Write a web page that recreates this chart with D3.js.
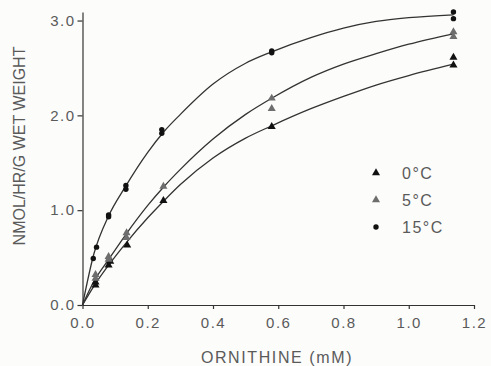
<!DOCTYPE html>
<html>
<head>
<meta charset="utf-8">
<script src="https://cdn.jsdelivr.net/npm/d3@7"></script>
<style>
  html, body { margin: 0; padding: 0; background: #fcfcfa; }
  svg { display: block; }
</style>
</head>
<body>
<div id="chart"></div>
<script>
// ornithine concentration (mM) of each measured point, and activity
const conc0 = [0.04, 0.04, 0.085, 0.08, 0.137, 0.248, 0.58, 1.137, 1.137];
const vals0 = [0.21, 0.24, 0.46, 0.42, 0.63, 1.10, 1.88, 2.61, 2.53];
const conc5 = [0.04, 0.04, 0.08, 0.08, 0.135, 0.135, 0.248, 0.58, 0.58, 1.137, 1.137];
const vals5 = [0.32, 0.28, 0.51, 0.48, 0.76, 0.71, 1.25, 2.18, 2.07, 2.88, 2.83];
const conc15 = [0.033, 0.043, 0.08, 0.08, 0.133, 0.133, 0.243, 0.243, 0.58, 0.58, 1.137, 1.137];
const vals15 = [0.49, 0.61, 0.95, 0.93, 1.26, 1.22, 1.85, 1.81, 2.68, 2.66, 3.09, 3.02];

// fitted curves
const curveX = [0, 0.035, 0.08, 0.13, 0.2, 0.25, 0.3, 0.4, 0.5, 0.58, 0.7, 0.8, 0.9, 1.0, 1.137];
const curve0 = [0, 0.20, 0.42, 0.64, 0.92, 1.10, 1.27, 1.55, 1.76, 1.89, 2.07, 2.20, 2.32, 2.42, 2.54];
const curve5 = [0, 0.25, 0.48, 0.73, 1.05, 1.25, 1.43, 1.75, 2.01, 2.18, 2.40, 2.54, 2.65, 2.75, 2.86];
const curve15 = [0, 0.54, 0.94, 1.24, 1.61, 1.83, 2.01, 2.33, 2.55, 2.67, 2.82, 2.92, 2.99, 3.03, 3.06];

const xTicks = [0, 0.2, 0.4, 0.6, 0.8, 1.0, 1.2];
const yTicks = [0, 1, 2, 3];
const legendLabels = ['0°C', '5°C', '15°C'];

const width = 491;
const height = 366;
const ink = '#333';
const textColor = '#5a5a5a';
const font = 'Liberation Sans, Arial, Helvetica, sans-serif';

const svg = d3.select('#chart')
	.append('svg')
		.attr('width', width)
		.attr('height', height);

const x = d3.scaleLinear().domain([0, 1.2]).range([82.5, 474]);
const y = d3.scaleLinear().domain([0, 3.09]).range([305, 12]);

// axes
const xAxis = svg.append('g')
	.attr('transform', `translate(0,${y(0)})`)
	.call(d3.axisBottom(x).tickValues(xTicks).tickSize(4).tickSizeOuter(0).tickFormat(d3.format('.1f')));
const yAxis = svg.append('g')
	.attr('transform', `translate(${x(0)},0)`)
	.call(d3.axisLeft(y).tickValues(yTicks).tickSize(5).tickSizeOuter(0).tickFormat(d3.format('.1f')));

[xAxis, yAxis].forEach(g => {
	g.selectAll('path, line').attr('stroke', ink).attr('stroke-width', 1.2);
	g.selectAll('text')
		.attr('fill', textColor)
		.style('font-family', font)
		.style('font-size', '15px')
		.style('letter-spacing', '1.5px');
});
xAxis.selectAll('text').attr('dy', '1.05em');
yAxis.selectAll('text').attr('x', -7);

// axis titles
svg.append('text')
	.attr('x', 277)
	.attr('y', 363)
	.attr('text-anchor', 'middle')
	.attr('fill', textColor)
	.style('font-family', font)
	.style('font-size', '16px')
	.style('letter-spacing', '1.6px')
	.text('ORNITHINE (mM)');
svg.append('text')
	.attr('transform', 'translate(25,146) rotate(-90)')
	.attr('text-anchor', 'middle')
	.attr('fill', textColor)
	.style('font-family', font)
	.style('font-size', '16px')
	.text('NMOL/HR/G WET WEIGHT');

// curves
const line = d3.line()
	.x(d => x(d[0]))
	.y(d => y(d[1]))
	.curve(d3.curveMonotoneX);

[curve0, curve5, curve15].forEach(vals => {
	svg.append('path')
		.datum(curveX.map((c, i) => [c, vals[i]]))
		.attr('d', line)
		.attr('fill', 'none')
		.attr('stroke', ink)
		.attr('stroke-width', 1.3);
});

// markers
const tri = d3.symbol(d3.symbolTriangle).size(28);
const series = [
	{ conc: conc0, vals: vals0, shape: 'tri', color: '#111' },
	{ conc: conc5, vals: vals5, shape: 'tri', color: '#6e6e6e' },
	{ conc: conc15, vals: vals15, shape: 'dot', color: '#111' },
];

function drawMarker(g, s, cx, cy) {
	if (s.shape === 'tri') {
		g.append('path')
			.attr('d', tri)
			.attr('transform', `translate(${cx},${cy})`)
			.attr('fill', s.color);
	} else {
		g.append('circle')
			.attr('cx', cx)
			.attr('cy', cy)
			.attr('r', 2.7)
			.attr('fill', s.color);
	}
}

const marks = svg.append('g');
series.forEach(s => {
	s.conc.forEach((c, i) => drawMarker(marks, s, x(c), y(s.vals[i])));
});

// legend
const legend = svg.append('g');
series.forEach((s, i) => {
	const ly = 173 + i * 27;
	drawMarker(legend, s, 376, ly);
	legend.append('text')
		.attr('x', 402)
		.attr('y', ly)
		.attr('dy', '0.36em')
		.attr('fill', textColor)
		.style('font-family', font)
		.style('font-size', '16px')
		.style('letter-spacing', '1.5px')
		.text(legendLabels[i]);
});
</script>
</body>
</html>
